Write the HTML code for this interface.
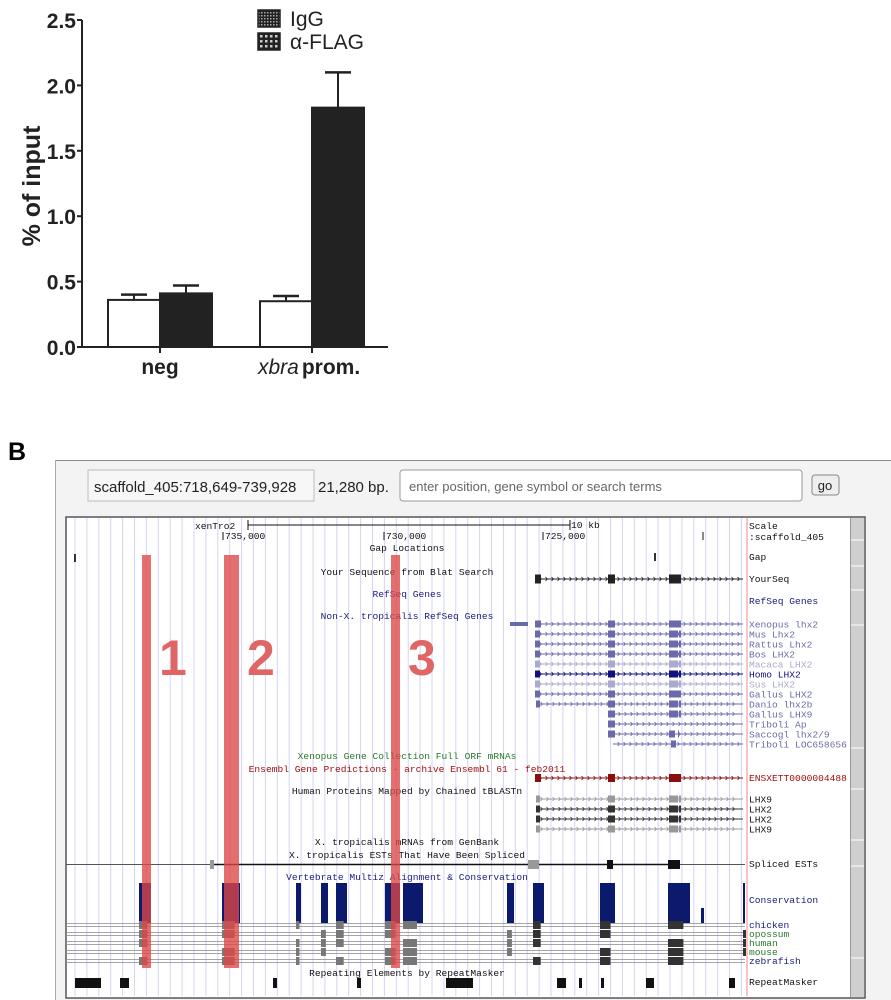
<!DOCTYPE html>
<html><head><meta charset="utf-8"><style>
html,body{margin:0;padding:0;background:#fff;width:891px;height:1000px;overflow:hidden;font-family:"Liberation Sans",sans-serif}
svg{position:absolute;left:0;top:0}
</style></head><body>
<svg width="891" height="1000" xmlns="http://www.w3.org/2000/svg" id="root">
<defs>
<pattern id="chk1" width="3" height="3" patternUnits="userSpaceOnUse"><rect width="3" height="3" fill="#222"/><rect width="1.5" height="1.5" fill="#aaa"/></pattern>
<pattern id="chk2" width="5" height="5" patternUnits="userSpaceOnUse"><rect width="5" height="5" fill="#222"/><rect width="2.5" height="2.5" fill="#ccc"/></pattern>
</defs>
<g id="chart"></g>
<text x="8" y="460" font-size="25" font-weight="bold">B</text>
<g id="browser"></g>
</svg>
<script>
// ---------- Bar chart data ----------
const categories = ["neg", "xbra prom."];
const seriesNames = ["IgG", "α-FLAG"];
const iggValues = [0.36, 0.35];
const iggErrors = [0.04, 0.04];
const flagValues = [0.41, 1.83];
const flagErrors = [0.06, 0.27];
const yTicks = ["0.0", "0.5", "1.0", "1.5", "2.0", "2.5"];

const NS = "http://www.w3.org/2000/svg";
function mk(tag, attrs, parent, txt) {
  const e = document.createElementNS(NS, tag);
  for (const k in attrs) e.setAttribute(k, attrs[k]);
  if (txt !== undefined) e.textContent = txt;
  parent.appendChild(e);
  return e;
}
const chart = document.getElementById('chart');
const y0 = 347, pxPerUnit = 130.8, axisX = 82;
const yScale = v => y0 - v * pxPerUnit;
const groupLeft = [108, 260], barW = 52;

let ax = mk('line', {x1: axisX, y1: yScale(2.5), x2: axisX, y2: y0 + 1, stroke: '#222', 'stroke-width': 2}, chart);


ax = mk('line', {x1: axisX - 1, y1: y0, x2: 388, y2: y0, stroke: '#222', 'stroke-width': 2}, chart);


yTicks.forEach(t => {
  const y = yScale(parseFloat(t));
  mk('line', {x1: axisX - 5, y1: y, x2: axisX, y2: y, stroke: '#222', 'stroke-width': 2}, chart);
  const tx = mk('text', {x: axisX - 6, y: y + 8, 'text-anchor': 'end', 'font-size': 21, 'font-weight': 'bold', fill: '#222'}, chart, t);
  
  
});
const yt = mk('text', {x: 0, y: 0, transform: 'translate(40,186) rotate(-90)', 'text-anchor': 'middle', 'font-size': 25, 'font-weight': 'bold', fill: '#222'}, chart, '% of input');



function drawBar(x, v, err, fill, name) {
  const r = mk('rect', {x: x, y: yScale(v), width: barW, height: y0 - yScale(v), fill: fill, stroke: '#222', 'stroke-width': 2}, chart);
  
  
  const cx = x + barW / 2;
  mk('line', {x1: cx, y1: yScale(v), x2: cx, y2: yScale(v + err), stroke: '#222', 'stroke-width': 2}, chart);
  mk('line', {x1: cx - 13, y1: yScale(v + err), x2: cx + 13, y2: yScale(v + err), stroke: '#222', 'stroke-width': 2.5}, chart);
}
categories.forEach((c, i) => {
  drawBar(groupLeft[i], iggValues[i], iggErrors[i], '#fff', 'bar-igg-' + i);
  drawBar(groupLeft[i] + barW, flagValues[i], flagErrors[i], '#222', 'bar-flag-' + i);
  const cx = groupLeft[i] + barW;
  mk('line', {x1: cx, y1: y0, x2: cx, y2: y0 + 6, stroke: '#222', 'stroke-width': 2}, chart);
});
let xl = mk('text', {x: 160, y: 374, 'text-anchor': 'middle', 'font-size': 21, 'font-weight': 'bold', fill: '#222'}, chart, categories[0]);


xl = mk('text', {x: 258, y: 374, 'font-size': 21, fill: '#222'}, chart);


mk('tspan', {'font-style': 'italic'}, xl, 'xbra');
mk('tspan', {'font-weight': 'bold', dx: 3}, xl, 'prom.');
[['url(#chk1)', 10], ['url(#chk2)', 33]].forEach((p, i) => {
  const r = mk('rect', {x: 258, y: p[1], width: 22, height: 17, fill: p[0], stroke: '#222', 'stroke-width': 1.5}, chart);
  
  
  const t = mk('text', {x: 290, y: p[1] + 16, 'font-size': 21, fill: '#222'}, chart, seriesNames[i]);
  
  
});

// ---------- Genome browser ----------
const B = document.getElementById('browser');
mk('rect', {x: 55, y: 460, width: 836, height: 540, fill: '#f3f3f3'}, B);
mk('line', {x1: 55, y1: 460.5, x2: 891, y2: 460.5, stroke: '#888'}, B);
mk('line', {x1: 55.5, y1: 460, x2: 55.5, y2: 1000, stroke: '#aaa'}, B);
let el = mk('rect', {x: 88, y: 470, width: 226, height: 31, fill: '#f7f7f7', stroke: '#bbb'}, B);


mk('text', {x: 94, y: 492, 'font-size': 15, fill: '#222'}, B, 'scaffold_405:718,649-739,928');
mk('text', {x: 318, y: 492, 'font-size': 15, fill: '#222'}, B, '21,280 bp.');
el = mk('rect', {x: 400, y: 470, width: 402, height: 31, rx: 3, fill: '#fff', stroke: '#999'}, B);


mk('text', {x: 409, y: 491, 'font-size': 13, fill: '#666'}, B, 'enter position, gene symbol or search terms');
el = mk('rect', {x: 812, y: 475, width: 27, height: 20, rx: 3, fill: '#eee', stroke: '#888'}, B);


mk('text', {x: 825, y: 490, 'font-size': 13, 'text-anchor': 'middle', fill: '#222'}, B, 'go');

mk('rect', {x: 66, y: 517, width: 799, height: 481, fill: '#fff', stroke: '#555', 'stroke-width': 1.5}, B);
for (let x = 75; x < 747; x += 11.9) mk('line', {x1: x, y1: 518, x2: x, y2: 996, stroke: '#d4d4f4', 'stroke-width': 1}, B);
mk('line', {x1: 747, y1: 518, x2: 747, y2: 996, stroke: '#e88', 'stroke-width': 1}, B);
mk('rect', {x: 851, y: 518, width: 13, height: 479, fill: '#cfcfcf'}, B);
[540, 566, 590, 625, 748, 789, 840, 866, 958].forEach(y => mk('line', {x1: 851, y1: y, x2: 864, y2: y, stroke: '#fff'}, B));
mk('line', {x1: 850.5, y1: 518, x2: 850.5, y2: 997, stroke: '#999'}, B);

const mono = {'font-family': '"Liberation Mono", monospace', 'font-size': 9.6};
function T(x, y, s, fill, anchor) {
  const a = Object.assign({x: x, y: y, fill: fill || '#111'}, mono);
  if (anchor) a['text-anchor'] = anchor;
  return mk('text', a, B, s);
}
T(195, 529, 'xenTro2');
mk('line', {x1: 248, y1: 525, x2: 570, y2: 525, stroke: '#111'}, B);
mk('line', {x1: 248, y1: 520, x2: 248, y2: 530, stroke: '#111'}, B);
mk('line', {x1: 570, y1: 520, x2: 570, y2: 530, stroke: '#111'}, B);
T(571, 528, '10 kb');
[[223, '735,000'], [384, '730,000'], [543, '725,000'], [703, '']].forEach(p => {
  mk('line', {x1: p[0], y1: 532, x2: p[0], y2: 540, stroke: '#111'}, B);
  T(p[0] + 2, 539, p[1]);
});
[[551, 'Gap Locations', '#111'], [575, 'Your Sequence from Blat Search', '#111'], [597, 'RefSeq Genes', '#202080'],
 [619, 'Non-X. tropicalis RefSeq Genes', '#202080'], [759, 'Xenopus Gene Collection Full ORF mRNAs', '#2a7a2a'],
 [772, 'Ensembl Gene Predictions - archive Ensembl 61 - feb2011', '#a01010'], [794, 'Human Proteins Mapped by Chained tBLASTn', '#111'],
 [845, 'X. tropicalis mRNAs from GenBank', '#111'], [858, 'X. tropicalis ESTs That Have Been Spliced', '#111'],
 [880, 'Vertebrate Multiz Alignment & Conservation', '#202080'], [976, 'Repeating Elements by RepeatMasker', '#111']]
 .forEach(p => T(407, p[0], p[1], p[2], 'middle'));
[[529, 'Scale', '#111'], [540, ':scaffold_405', '#111'], [560, 'Gap', '#111'], [582, 'YourSeq', '#111'], [604, 'RefSeq Genes', '#202080'],
 [781, 'ENSXETT0000004488', '#a01010'], [867, 'Spliced ESTs', '#111'], [903, 'Conservation', '#202080'],
 [928, 'chicken', '#202080'], [937, 'opossum', '#2a7a2a'], [946, 'human', '#2a7a2a'], [955, 'mouse', '#2a7a2a'], [964, 'zebrafish', '#202080'], [985, 'RepeatMasker', '#111']]
 .forEach(p => T(749, p[0], p[1], p[2]));
mk('rect', {x: 74, y: 554, width: 2, height: 8, fill: '#333'}, B);
mk('rect', {x: 654, y: 553, width: 2, height: 8, fill: '#333'}, B);

function gene(y, x0, x1, exons, color, h) {
  mk('line', {x1: x0, y1: y, x2: x1, y2: y, stroke: color, 'stroke-width': 1}, B);
  for (let x = x0 + 6; x < x1 - 3; x += 6) mk('path', {d: `M${x - 1.5} ${y - 2} L${x + 0.5} ${y} L${x - 1.5} ${y + 2}`, stroke: color, fill: 'none', 'stroke-width': 0.8}, B);
  exons.forEach(e => mk('rect', {x: e[0], y: y - (h || 4), width: e[1], height: 2 * (h || 4), fill: color}, B));
}
gene(579, 535, 743, [[535, 6], [608, 7], [669, 12]], '#222', 4.5);
const refRows = [
  ['Xenopus lhx2', '#6a6aaa', 535, [[535, 6], [608, 7], [669, 12]]], ['Mus Lhx2', '#6a6aaa', 535, [[535, 5], [608, 7], [669, 9], [679, 2]]],
  ['Rattus Lhx2', '#6a6aaa', 535, [[535, 5], [608, 7], [669, 9], [679, 2]]], ['Bos LHX2', '#6a6aaa', 535, [[535, 5], [608, 7], [669, 9], [679, 2]]],
  ['Macaca LHX2', '#aaaacc', 535, [[535, 5], [608, 7], [669, 9], [679, 2]]], ['Homo LHX2', '#101080', 535, [[535, 5], [608, 7], [669, 9], [679, 2]]],
  ['Sus LHX2', '#aaaacc', 535, [[535, 5], [608, 7], [669, 9], [679, 2]]], ['Gallus LHX2', '#6a6aaa', 535, [[535, 5], [608, 7], [669, 12]]],
  ['Danio lhx2b', '#6a6aaa', 536, [[536, 4], [608, 7], [669, 9], [679, 2]]], ['Gallus LHX9', '#6a6aaa', 608, [[608, 7], [669, 9], [679, 2]]],
  ['Triboli Ap', '#6a6aaa', 608, [[608, 7]]], ['Saccogl lhx2/9', '#6a6aaa', 608, [[608, 7], [669, 6], [678, 1]]],
  ['Triboli LOC658656', '#6a6aaa', 613, [[671, 5]]]];
refRows.forEach((r, i) => {
  const y = 624 + i * 10;
  gene(y, r[2], 743, r[3], r[1], 3.5);
  T(749, y + 3.5, r[0], r[1]);
});
mk('rect', {x: 510, y: 622, width: 18, height: 4, fill: '#6a6aaa'}, B);
gene(778, 535, 743, [[535, 6], [608, 7], [669, 12]], '#8a1010', 4);
[['LHX9', '#999'], ['LHX2', '#333'], ['LHX2', '#333'], ['LHX9', '#999']].forEach((r, i) => {
  const y = 799 + i * 10;
  gene(y, 536, 743, [[536, 4], [608, 7], [669, 9], [679, 2]], r[1], 3.5);
  T(749, y + 3.5, r[0]);
});
mk('line', {x1: 66, y1: 864.5, x2: 745, y2: 864.5, stroke: '#555'}, B);
mk('line', {x1: 213, y1: 864.5, x2: 680, y2: 864.5, stroke: '#111', 'stroke-width': 1.5}, B);
[[210, 4, '#999'], [528, 11, '#999'], [607, 6, '#111'], [668, 12, '#111']].forEach(b => mk('rect', {x: b[0], y: 860, width: b[1], height: 9, fill: b[2]}, B));
const cons = [[139, 12], [222, 18], [296, 5], [321, 7], [336, 11], [385, 15], [403, 20], [507, 7], [533, 11], [600, 15], [668, 22], [743, 2]];
cons.forEach(c => mk('rect', {x: c[0], y: 883, width: c[1], height: 40, fill: '#0c1a6e'}, B));
mk('rect', {x: 701, y: 908, width: 3, height: 15, fill: '#0c1a6e'}, B);
for (let i = 0; i < 5; i++) {
  const y = 925 + i * 9;
  mk('line', {x1: 66, y1: y - 1.5, x2: 745, y2: y - 1.5, stroke: '#888', 'stroke-width': 0.8}, B);
  mk('line', {x1: 66, y1: y + 1.5, x2: 745, y2: y + 1.5, stroke: '#888', 'stroke-width': 0.8}, B);
  cons.forEach((c, j) => { if ((i + j) % 4 !== 3) mk('rect', {x: c[0], y: y - 4, width: Math.max(3, c[1] * 0.7), height: 8, fill: j > 7 ? '#333' : '#777'}, B); });
}
[[75, 26], [120, 9], [273, 4], [357, 4], [446, 27], [557, 9], [579, 3], [601, 3], [646, 8], [729, 6]].forEach(r => mk('rect', {x: r[0], y: 978, width: r[1], height: 10, fill: '#111'}, B));
[[142, 9, '1'], [224, 15, '2'], [391, 9, '3']].forEach((h, i) => {
  const r = mk('rect', {x: h[0], y: 555, width: h[1], height: 413, fill: 'rgba(222,70,70,0.78)'}, B);
  
  
  const t = mk('text', {x: h[0] + h[1] + 8, y: 675, 'font-size': 50, 'font-weight': 'bold', fill: '#e06666', 'font-family': '"Liberation Sans", sans-serif'}, B, h[2]);
  
  
});
</script>
</body></html>
